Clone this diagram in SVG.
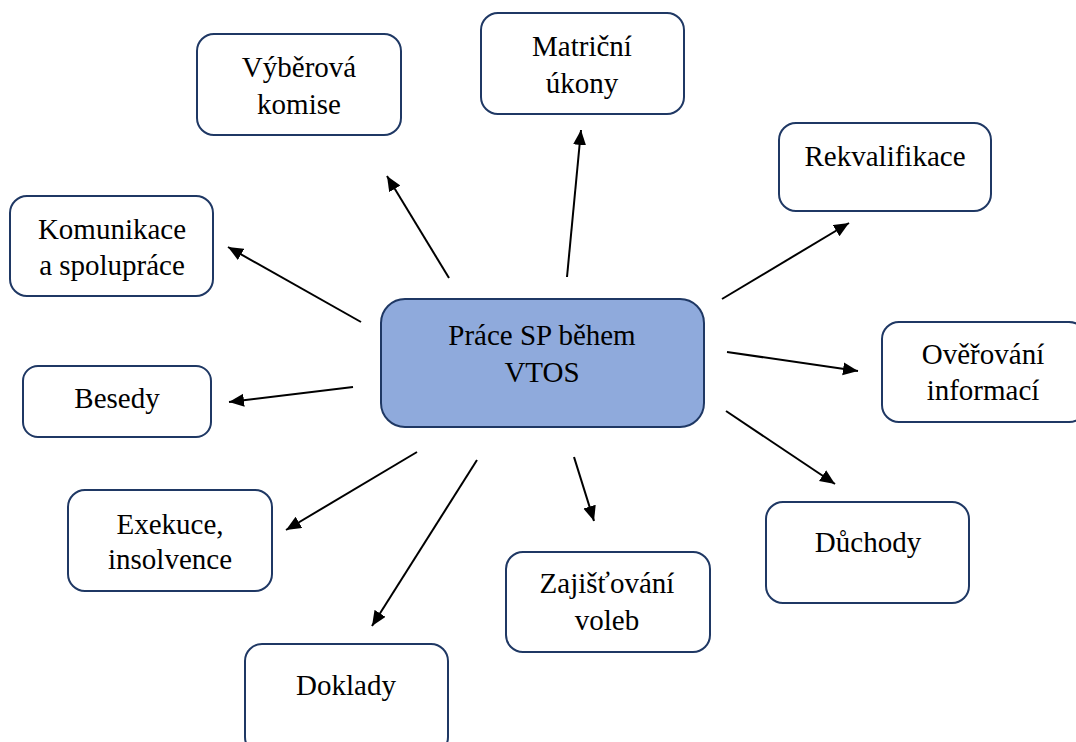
<svg xmlns="http://www.w3.org/2000/svg" width="1076" height="742" viewBox="0 0 1076 742">
<style>
.node rect{fill:#ffffff;stroke:#1f3864;stroke-width:2}
.center rect{fill:#8faadc;stroke:#1f3864;stroke-width:2}
text{font-family:"Liberation Serif","Times New Roman",serif;font-size:29px;fill:#000;text-anchor:middle}
.conn line{stroke:#000;stroke-width:2;marker-end:url(#ah)}
</style>
<defs>
<marker id="ah" markerUnits="userSpaceOnUse" markerWidth="16" markerHeight="14" refX="15" refY="6.5" orient="auto">
<path d="M0,0 L15,6.5 L0,13 z" fill="#000"/>
</marker>
</defs>
<rect width="1076" height="742" fill="#fff"/>
<g id="connectors" class="conn">
<line x1="449" y1="278" x2="387" y2="176"/>
<line x1="567" y1="277" x2="581" y2="130"/>
<line x1="722" y1="299" x2="849" y2="223"/>
<line x1="361" y1="322" x2="228" y2="247"/>
<line x1="727" y1="352" x2="858" y2="371"/>
<line x1="353" y1="387" x2="229" y2="402"/>
<line x1="726" y1="411" x2="835" y2="484"/>
<line x1="417" y1="452" x2="286" y2="530"/>
<line x1="574" y1="457" x2="594" y2="521"/>
<line x1="477" y1="460" x2="372" y2="626"/>
</g>
<g id="center" class="center">
<rect x="381" y="299" width="323" height="128" rx="24"/>
<text x="542" y="345">Práce SP během</text>
<text x="542" y="382">VTOS</text>
</g>
<g id="vyberova" class="node">
<rect x="197" y="34" width="204" height="101" rx="17"/>
<text x="299" y="77">Výběrová</text>
<text x="299" y="114">komise</text>
</g>
<g id="matricni" class="node">
<rect x="481" y="13" width="203" height="101" rx="17"/>
<text x="582" y="56">Matriční</text>
<text x="582" y="93">úkony</text>
</g>
<g id="rekvalifikace" class="node">
<rect x="779" y="123" width="212" height="88" rx="17"/>
<text x="885" y="166">Rekvalifikace</text>
</g>
<g id="komunikace" class="node">
<rect x="10" y="196" width="203" height="100" rx="17"/>
<text x="112" y="239">Komunikace</text>
<text x="112" y="275">a spolupráce</text>
</g>
<g id="overovani" class="node">
<rect x="882" y="322" width="204" height="100" rx="17"/>
<text x="983" y="364">Ověřování</text>
<text x="983" y="400">informací</text>
</g>
<g id="besedy" class="node">
<rect x="23" y="366" width="188" height="71" rx="15"/>
<text x="117" y="408">Besedy</text>
</g>
<g id="exekuce" class="node">
<rect x="68" y="490" width="204" height="101" rx="17"/>
<text x="170" y="534">Exekuce,</text>
<text x="170" y="569">insolvence</text>
</g>
<g id="duchody" class="node">
<rect x="766" y="502" width="203" height="101" rx="17"/>
<text x="868" y="552">Důchody</text>
</g>
<g id="zajistovani" class="node">
<rect x="506" y="552" width="204" height="100" rx="17"/>
<text x="607" y="593">Zajišťování</text>
<text x="607" y="630">voleb</text>
</g>
<g id="doklady" class="node">
<rect x="245" y="644" width="203" height="110" rx="17"/>
<text x="346" y="695">Doklady</text>
</g>
</svg>
